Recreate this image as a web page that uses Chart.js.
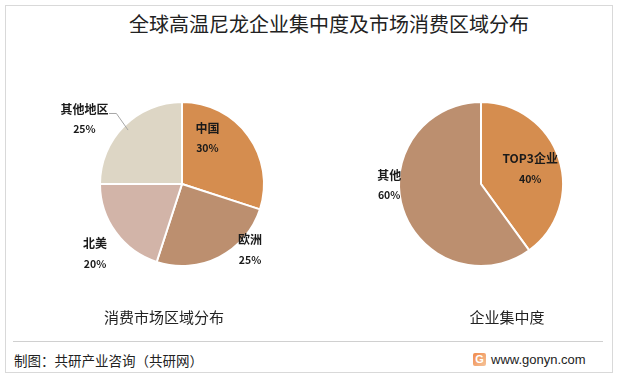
<!DOCTYPE html>
<html>
<head>
<meta charset="utf-8">
<script src="https://cdn.jsdelivr.net/npm/chart.js@4.4.1/dist/chart.umd.min.js"></script>
<style>
  html, body { margin: 0; padding: 0; background: #fff; }
  body { width: 618px; height: 378px; position: relative; overflow: hidden;
         font-family: "Noto Sans CJK SC", "Noto Sans", sans-serif; color: #222; }
  .frame { position: absolute; left: 5px; top: 5px; width: 606px; height: 366px; border: 1px solid #d9d9d9; }
  .title { position: absolute; left: 0; width: 658px; top: 10px; text-align: center; font-size: 20px; line-height: 28px; }
  .sub { position: absolute; top: 306px; font-size: 15px; line-height: 22px; width: 200px; text-align: center; }
  .rule { position: absolute; left: 13px; top: 341px; width: 590px; height: 1px; background: #d0d0d0; }
  .src { position: absolute; left: 14px; top: 350px; font-size: 13.5px; line-height: 20px; }
  .site { position: absolute; left: 491px; top: 350px; font-size: 13px; line-height: 20px; font-family: "Liberation Sans", Arial, sans-serif; }
  .logo { position: absolute; left: 473px; top: 353px; width: 13px; height: 13px; border-radius: 2px;
          background: linear-gradient(135deg, #f08a4b, #f5c39a); color: #fff; font: bold 11px/13px "Liberation Sans", sans-serif; text-align: center; }
  canvas { position: absolute; }
  .wm { position: absolute; color: rgba(0,0,0,0.022); font-weight: bold; font-size: 30px; transform: rotate(-8deg); white-space: nowrap; }
</style>
</head>
<body>
<div class="frame"></div>
<div class="wm" style="left:60px;top:40px">共研产业咨询</div>
<div class="wm" style="left:330px;top:40px">共研产业咨询</div>
<div class="wm" style="left:120px;top:270px">共研产业咨询</div>
<div class="wm" style="left:400px;top:280px">共研产业咨询</div>
<div class="title">全球高温尼龙企业集中度及市场消费区域分布</div>
<canvas id="regionChart" style="left:12px;top:60px" width="340" height="248"></canvas>
<canvas id="concChart" style="left:331px;top:60px" width="300" height="248"></canvas>
<div class="sub" style="left:64px">消费市场区域分布</div>
<div class="sub" style="left:407px">企业集中度</div>
<div class="rule"></div>
<div class="src">制图：共研产业咨询（共研网）</div>
<div class="logo">G</div>
<div class="site">www.gonyn.com</div>
<script>
// 消费市场区域分布
const regionLabels = ['中国', '欧洲', '北美', '其他地区'];
const regionValues = [30, 25, 20, 25];
const regionColors = ['#D58D4F', '#BC8F6F', '#D2B4A8', '#DDD6C5'];

// 企业集中度
const concLabels = ['TOP3企业', '其他'];
const concValues = [40, 60];
const concColors = ['#D58D4F', '#BC8F6F'];

// label anchor relative to pie centre, in units of radius
const regionLabelPos = [[0.31, -0.57], [0.83, 0.79], [-1.06, 0.84], [-1.19, -0.8]];
const concLabelPos = [[0.6, -0.2], [-1.12, 0.0]];

const pieLabels = {
  id: 'pieLabels',
  afterDatasetsDraw(chart, args, opts) {
    const ctx = chart.ctx;
    const meta = chart.getDatasetMeta(0);
    const arc0 = meta.data[0];
    const cx = arc0.x, cy = arc0.y, r = arc0.outerRadius;
    const values = chart.data.datasets[0].data;
    ctx.save();
    ctx.fillStyle = '#1a1a1a';
    ctx.textAlign = 'center';
    ctx.textBaseline = 'middle';
    chart.data.labels.forEach((lbl, i) => {
      const x = cx + opts.pos[i][0] * r;
      const y = cy + opts.pos[i][1] * r;
      ctx.font = 'bold 12px "Noto Sans CJK SC", sans-serif';
      ctx.fillText(lbl, x, y - 9);
      ctx.font = 'bold 10.5px "Noto Sans CJK SC", sans-serif';
      ctx.fillText(values[i] + '%', x, y + 11);
    });
    if (opts.leader) {
      const a = meta.data[opts.leader];
      const mid = (a.startAngle + a.endAngle) / 2;
      const ex = cx + Math.cos(mid) * r * 0.93;
      const ey = cy + Math.sin(mid) * r * 0.93;
      ctx.strokeStyle = '#a6a6a6';
      ctx.lineWidth = 1;
      ctx.beginPath();
      ctx.moveTo(cx + (-0.89) * r, cy + (-0.86) * r);
      ctx.lineTo(cx + (-0.80) * r, cy + (-0.86) * r);
      ctx.lineTo(ex, ey);
      ctx.stroke();
    }
    ctx.restore();
  }
};

function makePie(id, labels, values, colors, pos, leader) {
  return new Chart(document.getElementById(id), {
    type: 'pie',
    data: {
      labels: labels,
      datasets: [{
        data: values,
        backgroundColor: colors,
        borderColor: '#ffffff',
        borderWidth: 2
      }]
    },
    options: {
      responsive: false,
      animation: false,
      radius: 82,
      layout: { padding: 0 },
      plugins: {
        legend: { display: false },
        tooltip: { enabled: false },
        pieLabels: { pos: pos, leader: leader }
      }
    },
    plugins: [pieLabels]
  });
}

makePie('regionChart', regionLabels, regionValues, regionColors, regionLabelPos, 3);
makePie('concChart', concLabels, concValues, concColors, concLabelPos, null);
</script>
</body>
</html>
